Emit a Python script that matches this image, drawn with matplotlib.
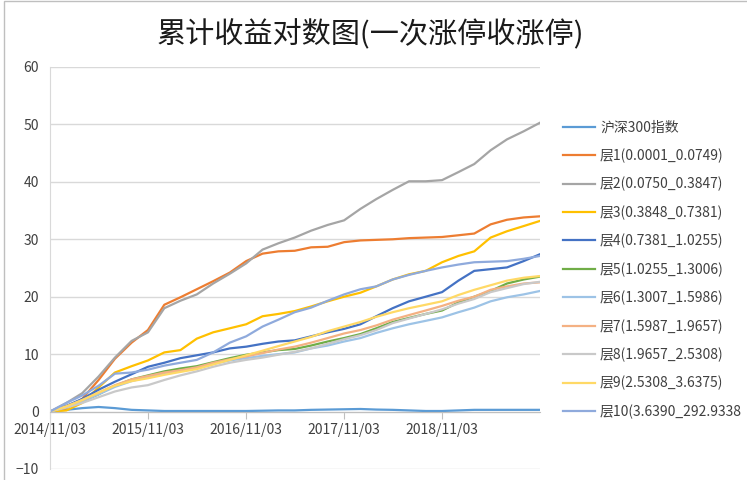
import pandas as pd
import matplotlib
matplotlib.use("Agg")
import matplotlib.pyplot as plt
import matplotlib.dates as mdates
from matplotlib.patches import Rectangle

plt.rcParams['font.family'] = ['Noto Sans CJK SC', 'DejaVu Sans']

# bimonthly sample points
dates = pd.date_range("2014-11-03", periods=31, freq=pd.DateOffset(months=2))

hs300 = [0, 0.3, 0.6, 0.8, 0.6, 0.3, 0.2, 0.1, 0.1, 0.1, 0.1, 0.1, 0.1, 0.15, 0.2, 0.2,
         0.3, 0.35, 0.4, 0.45, 0.35, 0.3, 0.2, 0.1, 0.1, 0.2, 0.3, 0.3, 0.3, 0.3, 0.3]
layer1 = [0, 0.6, 2.2, 5.5, 9.2, 12.0, 14.2, 18.6, 19.9, 21.3, 22.7, 24.2, 26.2, 27.5, 27.9, 28.0,
          28.6, 28.7, 29.5, 29.8, 29.9, 30.0, 30.2, 30.3, 30.4, 30.7, 31.0, 32.6, 33.4, 33.8, 34.0]
layer2 = [0, 1.5, 3.2, 6.1, 9.4, 12.3, 13.8, 18.0, 19.3, 20.4, 22.3, 24.0, 25.8, 28.2, 29.3, 30.3,
          31.5, 32.5, 33.3, 35.3, 37.0, 38.6, 40.1, 40.1, 40.3, 41.7, 43.1, 45.5, 47.4, 48.8, 50.3]
layer3 = [0, 0.2, 1.5, 4.2, 6.8, 7.9, 8.9, 10.3, 10.7, 12.7, 13.8, 14.5, 15.2, 16.6, 17.0, 17.5,
          18.3, 19.2, 20.0, 20.7, 21.8, 23.0, 23.9, 24.5, 26.0, 27.1, 27.9, 30.3, 31.4, 32.3, 33.2]
layer4 = [0, 1.0, 2.2, 3.8, 5.2, 6.5, 7.8, 8.5, 9.3, 9.8, 10.3, 11.0, 11.3, 11.8, 12.2, 12.4,
          13.1, 13.8, 14.4, 15.2, 16.6, 18.0, 19.2, 20.0, 20.8, 22.8, 24.5, 24.8, 25.1, 26.2, 27.4]
layer5 = [0, 0.8, 1.8, 3.0, 4.5, 5.6, 6.3, 7.0, 7.5, 7.9, 8.6, 9.3, 9.9, 10.3, 10.7, 10.9,
          11.5, 12.2, 12.8, 13.5, 14.5, 15.6, 16.3, 17.0, 17.6, 19.0, 20.0, 21.0, 22.3, 23.0, 23.5]
layer6 = [0, 0.8, 1.8, 3.0, 4.3, 5.3, 6.0, 6.7, 7.1, 7.6, 8.3, 8.9, 9.3, 9.7, 10.0, 10.3,
          11.0, 11.5, 12.2, 12.8, 13.7, 14.5, 15.2, 15.8, 16.4, 17.3, 18.1, 19.2, 19.9, 20.4, 21.0]
layer7 = [0, 0.9, 2.0, 3.3, 4.6, 5.6, 6.2, 6.8, 7.2, 7.7, 8.5, 9.1, 9.6, 10.2, 10.8, 11.3,
          12.0, 12.8, 13.6, 14.2, 15.0, 16.0, 16.8, 17.6, 18.4, 19.3, 20.0, 21.2, 21.8, 22.3, 22.5]
layer8 = [0, 0.7, 1.5, 2.5, 3.5, 4.2, 4.6, 5.5, 6.3, 7.0, 7.8, 8.5, 9.0, 9.4, 9.9, 10.4,
          11.0, 11.8, 12.6, 13.3, 14.2, 15.4, 16.2, 17.0, 17.8, 18.8, 19.6, 20.8, 21.5, 22.2, 22.6]
layer9 = [0, 0.9, 2.0, 3.3, 4.5, 5.3, 5.8, 6.4, 6.9, 7.4, 8.2, 9.0, 9.8, 10.6, 11.4, 12.2,
          13.0, 14.0, 14.8, 15.6, 16.5, 17.3, 18.0, 18.6, 19.2, 20.3, 21.2, 22.0, 22.8, 23.3, 23.6]
layer10 = [0, 1.5, 2.8, 4.5, 6.6, 6.8, 7.3, 8.0, 8.5, 9.0, 10.3, 12.0, 13.1, 14.8, 16.0, 17.3,
           18.1, 19.3, 20.4, 21.3, 21.8, 23.0, 23.8, 24.5, 25.1, 25.6, 26.0, 26.1, 26.2, 26.6, 27.1]

labels = ["沪深300指数", "层1(0.0001_0.0749)", "层2(0.0750_0.3847)", "层3(0.3848_0.7381)",
          "层4(0.7381_1.0255)", "层5(1.0255_1.3006)", "层6(1.3007_1.5986)", "层7(1.5987_1.9657)",
          "层8(1.9657_2.5308)", "层9(2.5308_3.6375)", "层10(3.6390_292.9338"]
series = [hs300, layer1, layer2, layer3, layer4, layer5, layer6, layer7, layer8, layer9, layer10]
colors = ["#5B9BD5", "#ED7D31", "#A5A5A5", "#FFC000", "#4472C4", "#70AD47",
          "#9DC3E6", "#F4B183", "#C9C9C9", "#FFD966", "#8FAADC"]

year_ticks = pd.to_datetime(["2014-11-03", "2015-11-03", "2016-11-03", "2017-11-03", "2018-11-03"])

fig = plt.figure(figsize=(7.47, 4.80), dpi=100)
ax = fig.add_axes([50 / 747, 1 - 469 / 480, 490 / 747, 402 / 480])

for vals, lab, col in zip(series, labels, colors):
    ax.plot(dates, vals, color=col, lw=1.6, label=lab)

ax.set_ylim(-10, 60)
ax.set_yticks(range(-10, 61, 10))
ax.set_xlim(pd.Timestamp("2014-11-03"), pd.Timestamp("2019-11-03"))
ax.set_xticks(year_ticks)
ax.xaxis.set_major_formatter(mdates.DateFormatter("%Y/%m/%d"))
ax.grid(axis='y', color="#D9D9D9", lw=1)
ax.set_axisbelow(True)

for s in ['top', 'right']:
    ax.spines[s].set_visible(False)
ax.spines['left'].set_color("#D9D9D9")
ax.spines['bottom'].set_position(('data', 0))
ax.spines['bottom'].set_color("#BFBFBF")
ax.tick_params(axis='y', length=0, labelsize=10, labelcolor="#404040", pad=8)
ax.tick_params(axis='x', length=5, color="#BFBFBF", labelsize=10, labelcolor="#404040", pad=3)

fig.text(370 / 747, 1 - 35 / 480, "累计收益对数图(一次涨停收涨停)", ha='center', va='center',
         fontsize=21, fontweight='medium', color="#1a1a1a")

fig.legend(loc='upper left', bbox_to_anchor=(557 / 747, 1 - 115 / 480), frameon=False,
           fontsize=10, handlelength=2.3, handletextpad=0.4, labelspacing=1.0,
           labelcolor="#404040", borderaxespad=0)

# chart border as in the spreadsheet screenshot
fig.add_artist(Rectangle((4 / 747, -0.1), 1.2, 1.1 - 1 / 480, transform=fig.transFigure,
                         fill=False, edgecolor="#BFBFBF", lw=1))

fig.savefig("out.png", dpi=100)
